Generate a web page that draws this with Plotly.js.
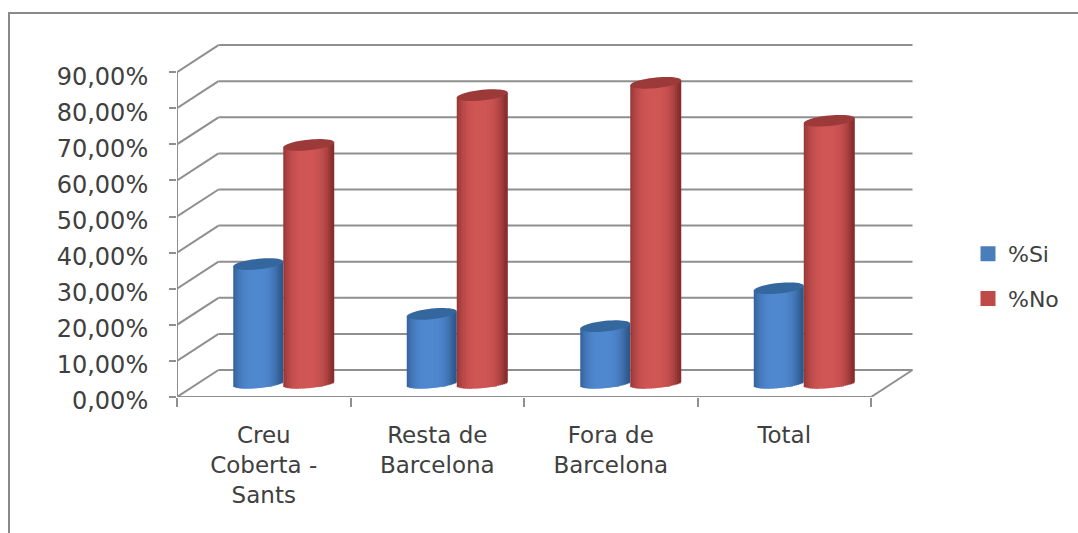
<!DOCTYPE html>
<html><head><meta charset="utf-8">
<script src="https://cdn.plot.ly/plotly-3.0.1.min.js"></script>
<style>html,body{margin:0;padding:0;background:#fff}</style></head>
<body><div id="chart" style="width:1078px;height:533px"></div>
<script>
var categories = ["Creu<br>Coberta -<br>Sants", "Resta de<br>Barcelona", "Fora de<br>Barcelona", "Total"];
var siValues = [33.5, 19.7, 16.3, 26.8];
var noValues = [66.5, 80.3, 83.7, 73.2];
var yTicks = [0,10,20,30,40,50,60,70,80,90];
var yTickText = ["0,00%","10,00%","20,00%","30,00%","40,00%","50,00%","60,00%","70,00%","80,00%","90,00%"];

// layout constants in pixels of the plot
var W=1078,H=533,mL=177,mR=160,mT=40,mB=136;
var pxPerCat=173.5, pxPerPct=3.61;
var cx=function(p){return p/pxPerCat;}, cy=function(p){return p/pxPerPct;};
var plotW=W-mL-mR, plotH=H-mT-mB;
var depthX=cx(41.5), depthY=cy(27);
var floorLift=cy(12);       // value zero of the cylinders, mid-depth on the floor
var baseLift=cy(13.5);      // centre of the cylinders' bottom ellipse
var GRID='#8f8f8f', TEXT='#404040';

var series=[
 {name:'%Si',vals:siValues,color:'#4a7ebb',offPx:-30.5,wPx:50,dark:[44,88,138],light:[80,136,208],top:'#35679f'},
 {name:'%No',vals:noValues,color:'#be4b48',offPx:19.5,wPx:51,dark:[134,46,45],light:[208,86,85],top:'#9c3a39'}
];
var tiltPx=2.5, bTop=5.3, bBot=4.5;
var traces=[],shapes=[];

// walls and floor
function line(x0,y0,x1,y1,layer){return {type:'line',xref:'x',yref:'y',x0:x0,y0:y0,x1:x1,y1:y1,layer:layer||'below',line:{color:GRID,width:2}};}
var xL=-0.5,xR=categories.length-0.5;
yTicks.forEach(function(v){
  shapes.push(line(xL,v,xL+depthX,v+depthY));
  shapes.push(line(xL+depthX,v+depthY,xR+depthX,v+depthY));
});
shapes.push(line(xR,0,xR+depthX,depthY));
shapes.push(line(xL,0,xL,yTicks[yTicks.length-1]));
shapes.push(line(xL,0,xR,0));

series.forEach(function(s){
  // legend-bearing body
  traces.push({type:'bar',name:s.name,legendgroup:s.name,x:categories,y:s.vals,base:s.vals.map(function(){return floorLift;}),
    offset:cx(s.offPx+s.wPx*0.25),width:cx(s.wPx*0.5),marker:{color:s.color,line:{color:s.color,width:3}},hoverinfo:'x+y'});
  // cylinder shading strips
  var n=Math.floor(s.wPx/2), sw=s.wPx/n;
  for(var i=0;i<n;i++){
    var t=(i+0.5)/n*2-1;
    var f=1-Math.min(1,Math.pow(Math.abs(t+0.08),2.8));
    var c=s.dark.map(function(d,k){return Math.round(d+(s.light[k]-d)*f);});
    var bottom=baseLift+cy(tiltPx*t-bBot*Math.sqrt(1-t*t));
    var lift=cy(tiltPx*t);
    var overlap=i<n-1?1.5:0;
    traces.push({type:'bar',showlegend:false,legendgroup:s.name,x:categories,
      y:s.vals.map(function(v){return floorLift+v+lift-bottom;}),
      base:s.vals.map(function(){return bottom;}),
      offset:cx(s.offPx+i*sw),width:cx(sw+overlap),
      marker:{color:'rgb('+c.join(',')+')',line:{width:0}},hoverinfo:'skip'});
  }
  // top caps
  s.vals.forEach(function(v,ci){
    var a=cx(s.wPx/2), ctr=ci+cx(s.offPx+s.wPx/2), yc=floorLift+v, d='';
    for(var k=0;k<48;k++){
      var th=k/48*2*Math.PI, co=Math.cos(th);
      d+=(k?'L':'M')+(ctr+a*co).toFixed(4)+','+(yc+cy(tiltPx*co+bTop*Math.sin(th))).toFixed(3);
    }
    shapes.push({type:'path',xref:'x',yref:'y',path:d+'Z',fillcolor:s.top,line:{width:0},layer:'above'});
  });
});

// outer frame
function px(p){return (p-mL)/plotW;} function py(p){return 1-(p-mT)/plotH;}
shapes.push({type:'line',xref:'paper',yref:'paper',x0:px(9),x1:px(9),y0:py(13),y1:py(533),line:{color:'#8a8a8a',width:2}});
shapes.push({type:'line',xref:'paper',yref:'paper',x0:px(8),x1:px(1078),y0:py(13),y1:py(13),line:{color:'#8a8a8a',width:2}});

var layout={
  width:W,height:H,margin:{l:mL,r:mR,t:mT,b:mB,pad:0},
  paper_bgcolor:'#fff',plot_bgcolor:'#fff',barmode:'overlay',showlegend:true,
  font:{family:'"DejaVu Sans",sans-serif',color:TEXT},
  xaxis:{type:'category',categoryorder:'array',categoryarray:categories,range:[-0.5,-0.5+plotW/pxPerCat],
    tickson:'boundaries',ticks:'outside',ticklen:9,tickwidth:2,tickcolor:GRID,showgrid:false,zeroline:false,showline:false,
    tickangle:0,tickfont:{size:23,color:TEXT},ticklabelstandoff:22,fixedrange:true},
  yaxis:{range:[0,plotH/pxPerPct],tickmode:'array',tickvals:yTicks,ticktext:yTickText,ticks:'outside',ticklen:7,tickwidth:2,tickcolor:GRID,
    showgrid:false,zeroline:false,showline:false,tickfont:{size:24,color:TEXT},ticklabelstandoff:16,ticklabelshift:4,fixedrange:true},
  legend:{x:px(968),xanchor:'left',y:py(233),yanchor:'top',tracegroupgap:13,traceorder:'grouped',bgcolor:'rgba(0,0,0,0)',font:{size:22,color:TEXT}},
  shapes:shapes
};
Plotly.newPlot('chart',traces,layout,{displayModeBar:false});
</script></body></html>
